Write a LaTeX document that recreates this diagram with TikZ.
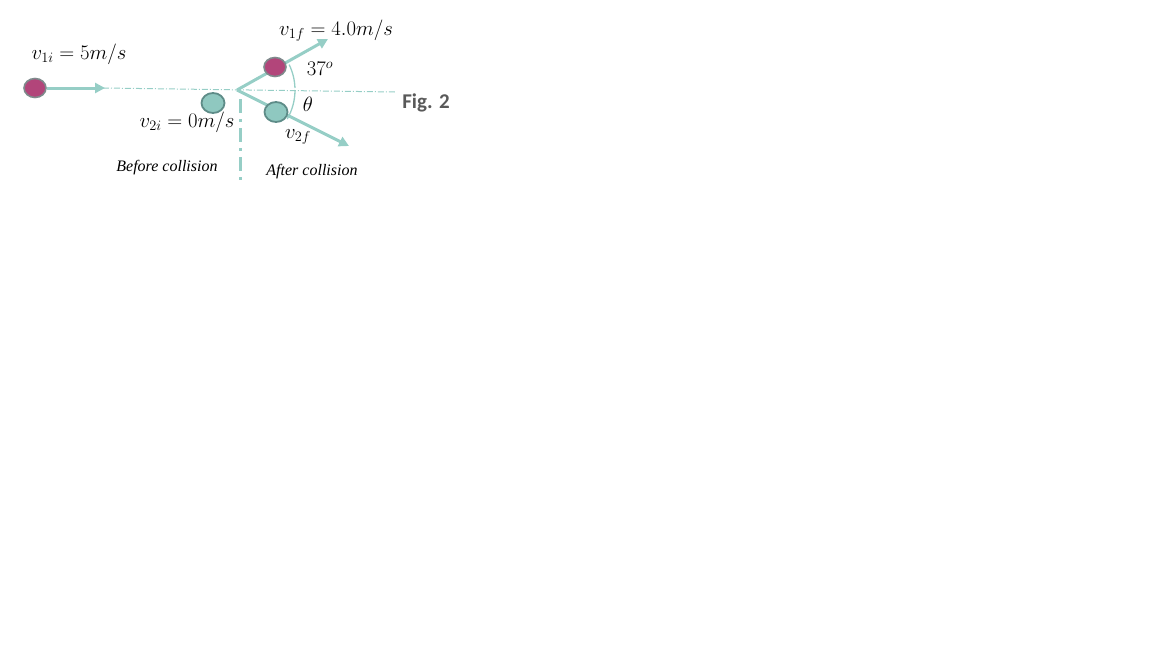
\documentclass[tikz,border=0pt]{standalone}
\usepackage{fontspec}
\usetikzlibrary{arrows.meta,shapes.geometric}
\newfontfamily\timesit{Liberation Serif}
\newfontfamily\figfont{Carlito}
\definecolor{teal1}{HTML}{96CEC6}
\definecolor{ballg}{HTML}{8FC8C0}
\definecolor{ballgb}{HTML}{5E8C88}
\definecolor{magen}{HTML}{B2457A}
\definecolor{magenb}{HTML}{7F8A8C}
\definecolor{figgray}{HTML}{595959}
\begin{document}
\begin{tikzpicture}[x=1pt,y=-1pt,
  vec/.style={draw=teal1,line width=3pt,-{Triangle[length=10pt,width=10pt]}},
  axis/.style={draw=teal1,line width=1pt,dash pattern=on 6pt off 2pt on 1pt off 2pt},
  vaxis/.style={draw=teal1,line width=3pt,dash pattern=on 14pt off 6pt on 3pt off 6pt},
  ballm/.style={ellipse,draw=magenb,line width=1.6pt,fill=magen,minimum width=22pt,minimum height=19pt,inner sep=0pt},
  ballt/.style={ellipse,draw=ballgb,line width=1.8pt,fill=ballg,minimum width=23pt,minimum height=20pt,inner sep=0pt},
  lbl/.style={font=\fontsize{19.5}{22}\selectfont,inner sep=0pt},
  captxt/.style={font=\fontsize{16}{19}\selectfont\timesit\itshape,inner sep=0pt},
  arcst/.style={draw=teal1,line width=1.3pt}]
\useasboundingbox (0,0) rectangle (1152,648);
% axes
\coordinate (ha) at (103,88);
\coordinate (hb) at (395,92);
\draw[axis] (ha) -- (hb);
\coordinate (va) at (240,99);
\coordinate (vb) at (240,181);
\draw[vaxis] (va) -- (vb);
% collision point
\coordinate (c) at (237,90);
\coordinate (t1) at (328,39);
\coordinate (t2) at (349,146);
\coordinate (t0) at (105,88);
% before
\node[ballm] (b1) at (35,88) {};
\draw[vec] (b1.east) -- (t0);
\node[ballt] (b2) at (213,103) {};
% after
\draw[vec] (c) -- (t1);
\draw[vec] (c) -- (t2);
\node[ballm] (b1f) at (275,67) {};
\node[ballt] (b2f) at (276,112) {};
% angle arcs
\draw[arcst] (c) ++(30:58) arc[start angle=30,end angle=0,radius=58];
\draw[arcst] (c) ++(-2:58) arc[start angle=-2,end angle=-26,radius=58];
% labels
\node[lbl] (l1) at (79,54) {$v_{1i}=5m/s$};
\node[lbl] (l2) at (187,122) {$v_{2i}=0m/s$};
\node[lbl] (l3) at (336,31) {$v_{1f}=4.0m/s$};
\node[lbl] (l4) at (320,69) {$37^{o}$};
\node[lbl] (l5) at (308,104) {$\theta$};
\node[lbl] (l6) at (298,137) {$v_{2f}$};
\node[captxt] (c1) at (167,168) {Before collision};
\node[captxt] (c2) at (312,172) {After collision};
\node[inner sep=0pt,text=figgray,font=\fontsize{21}{24}\selectfont\figfont\bfseries] (fig) at (426,103) {Fig. 2};
\end{tikzpicture}
\end{document}
